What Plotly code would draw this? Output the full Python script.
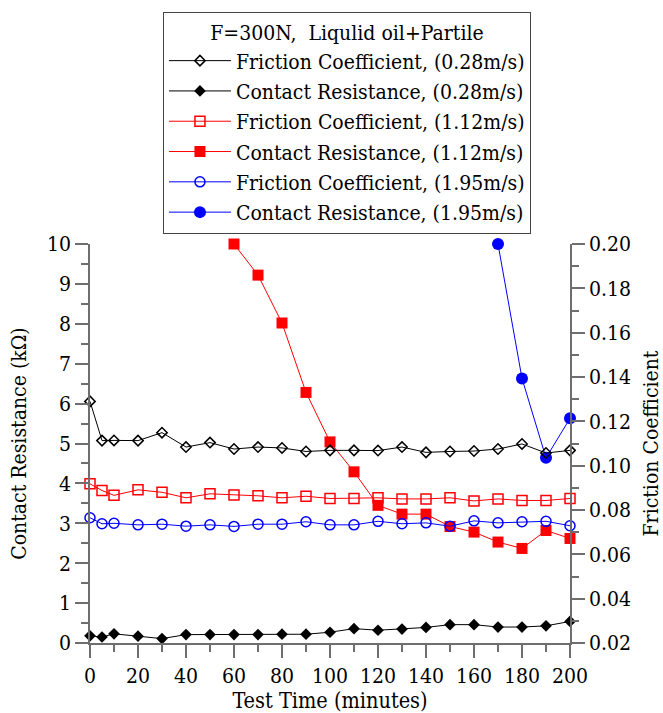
import plotly.graph_objects as go

time_all = [0, 5, 10, 20, 30, 40, 50, 60, 70, 80, 90, 100, 110, 120, 130, 140, 150, 160, 170, 180, 190, 200]
fric_028 = [0.129, 0.1113, 0.1114, 0.1113, 0.1149, 0.1084, 0.1104, 0.1075, 0.1084, 0.108, 0.1064,
            0.1069, 0.1069, 0.1068, 0.1084, 0.106, 0.1064, 0.1066, 0.1075, 0.1098, 0.1057, 0.1069]
res_028 = [0.18, 0.15, 0.23, 0.17, 0.11, 0.21, 0.21, 0.21, 0.21, 0.22, 0.22,
           0.27, 0.36, 0.32, 0.35, 0.39, 0.46, 0.46, 0.40, 0.40, 0.43, 0.54]
fric_112 = [0.0918, 0.0888, 0.0866, 0.0891, 0.088, 0.0855, 0.0873, 0.0868, 0.0864, 0.0855, 0.0862,
            0.0852, 0.0852, 0.0855, 0.085, 0.085, 0.0855, 0.0841, 0.085, 0.0843, 0.0843, 0.0852]
time_112 = [60, 70, 80, 90, 100, 110, 120, 130, 140, 150, 160, 170, 180, 190, 200]
res_112 = [10.0, 9.22, 8.02, 6.28, 5.04, 4.29, 3.45, 3.23, 3.23, 2.92, 2.78, 2.53, 2.37, 2.82, 2.62]
fric_195 = [0.0765, 0.0738, 0.074, 0.0733, 0.0736, 0.0727, 0.0733, 0.0726, 0.0736, 0.0736, 0.0747,
            0.0733, 0.0733, 0.0749, 0.0738, 0.0742, 0.0727, 0.0751, 0.0742, 0.0747, 0.0749, 0.0729]
time_195 = [170, 180, 190, 200]
res_195 = [10.0, 6.63, 4.64, 5.63]

FONT = "'DejaVu Serif Condensed', 'DejaVu Serif'"
AX = "#6e6e6e"
FS = 21

fig = go.Figure()

def add(x, y, name, color, symbol, size, axis, open_=False):
    if open_:
        marker = dict(symbol=symbol + "-open", size=size, color=color, line=dict(color=color, width=1.5))
    else:
        marker = dict(symbol=symbol, size=size, color=color, line=dict(width=0))
    fig.add_trace(go.Scatter(x=x, y=y, name=name, mode="lines+markers", yaxis=axis,
                             line=dict(color=color, width=1), marker=marker, cliponaxis=False))

add(time_all, fric_028, "Friction Coefficient, (0.28m/s)", "black", "diamond", 8, "y2", True)
add(time_all, res_028, "Contact Resistance, (0.28m/s)", "black", "diamond", 9, "y")
add(time_all, fric_112, "Friction Coefficient, (1.12m/s)", "#ff0000", "square", 10, "y2", True)
add(time_112, res_112, "Contact Resistance, (1.12m/s)", "#ff0000", "square", 11, "y")
add(time_all, fric_195, "Friction Coefficient, (1.95m/s)", "#0000ff", "circle", 10, "y2", True)
add(time_195, res_195, "Contact Resistance, (1.95m/s)", "#0000ff", "circle", 12, "y")

common = dict(showline=True, linecolor=AX, linewidth=1.5, ticks="outside", ticklen=13, tickwidth=1.5,
              tickcolor=AX, showgrid=False, zeroline=False, automargin=False,
              tickfont=dict(family=FONT, size=FS, color="black"))

fig.update_layout(
    width=663, height=713,
    margin=dict(l=90, r=93, t=244, b=70, autoexpand=False),
    plot_bgcolor="white", paper_bgcolor="white",
    font=dict(family=FONT, size=FS, color="black"),
    showlegend=True,
    legend=dict(x=0.152, y=1.581, xanchor="left", yanchor="top",
                bgcolor="white", bordercolor="#444", borderwidth=1,
                itemwidth=62,
                font=dict(family=FONT, size=FS, color="black"),
                title=dict(text="F=300N,  Liqulid oil+Partile", side="top center",
                           font=dict(family=FONT, size=FS, color="black")),
                tracegroupgap=0),
    xaxis=dict(range=[0, 200], dtick=20, tick0=0,
               minor=dict(ticks="outside", ticklen=7, dtick=10, tickcolor=AX, tickwidth=1.5),
               title=dict(text="Test Time (minutes)", font=dict(family=FONT, size=21.5)), **common),
    yaxis=dict(range=[0, 10], dtick=1, tick0=0,
               minor=dict(ticks="outside", ticklen=7, dtick=0.5, tickcolor=AX, tickwidth=1.5),
               title=dict(text="Contact Resistance (kΩ)", font=dict(family=FONT, size=FS)), **common),
    yaxis2=dict(range=[0.02, 0.20], dtick=0.02, tick0=0.02, tickformat=".2f",
                overlaying="y", side="right",
                minor=dict(ticks="outside", ticklen=7, dtick=0.01, tickcolor=AX, tickwidth=1.5),
                title=dict(text="Friction Coefficient", font=dict(family=FONT, size=FS)), **common),
)

fig.write_html("out.html")
